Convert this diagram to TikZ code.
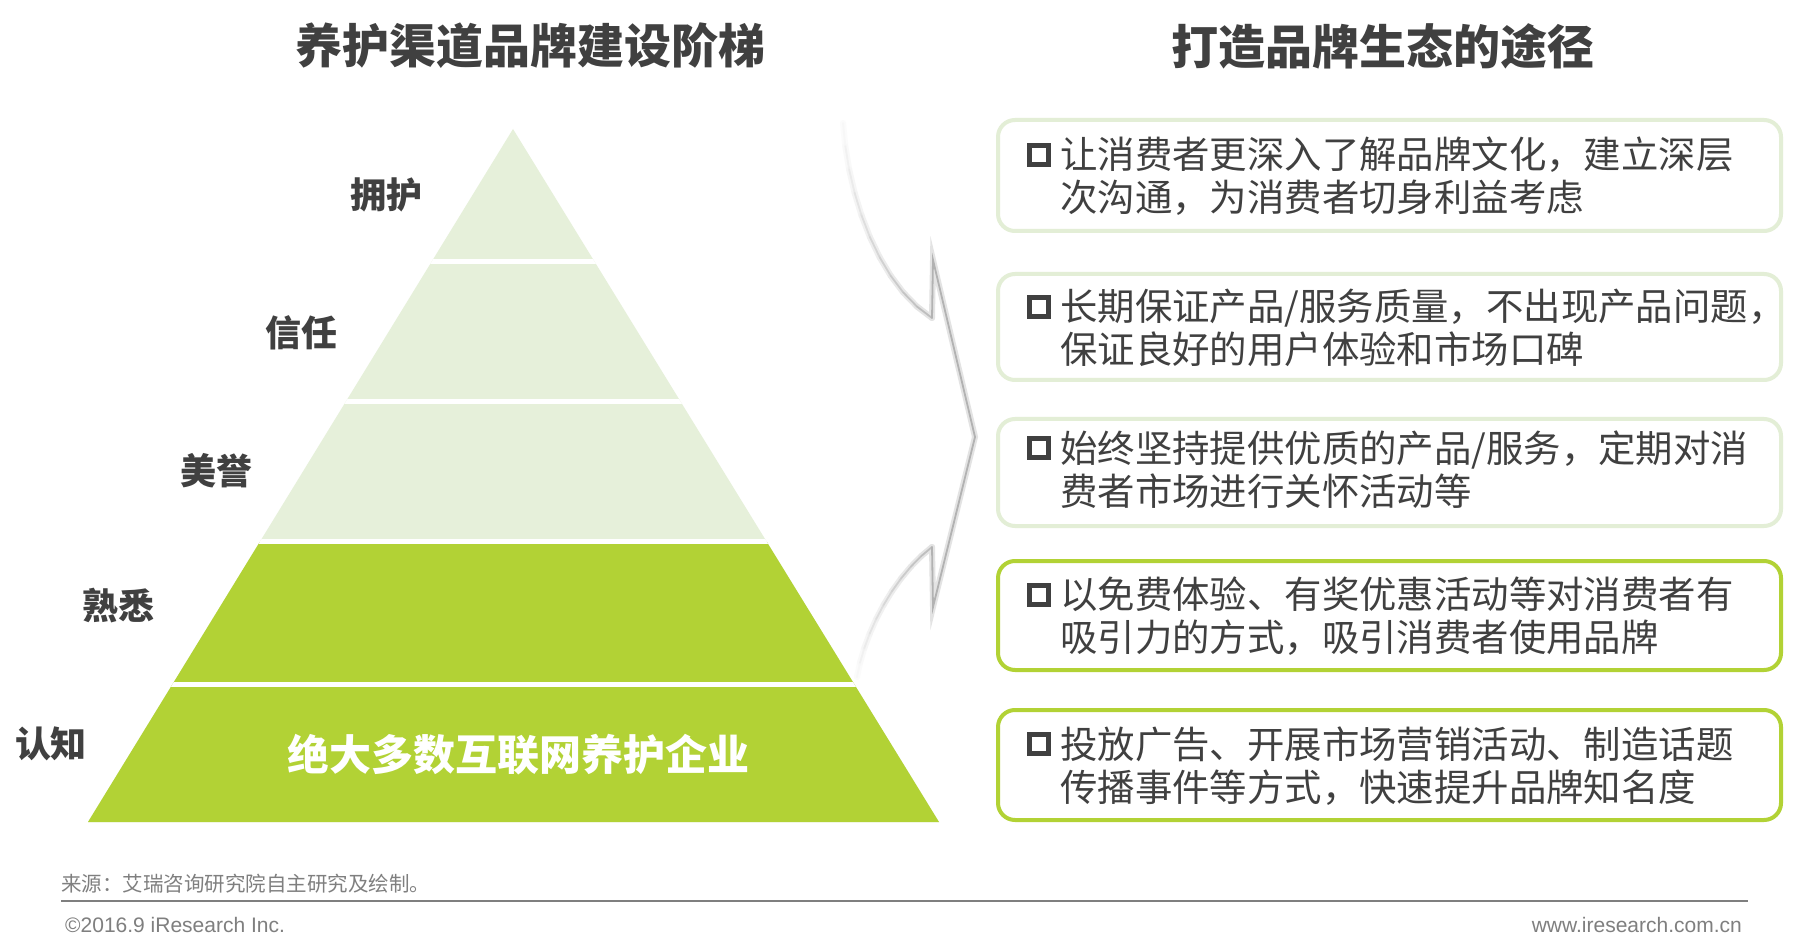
\documentclass[tikz,border=0pt]{standalone}
\usepackage{fontspec}
\setmainfont{Noto Sans CJK SC}
\newfontfamily\latn{Liberation Sans}
\definecolor{lightg}{HTML}{E6F0DA}
\definecolor{darkg}{HTML}{B2D235}
\definecolor{txt}{HTML}{404040}
\definecolor{foot}{HTML}{7F7F7F}
\definecolor{boxlight}{HTML}{E3EED6}
\begin{document}
\begin{tikzpicture}[x=1pt,y=-1pt,
  title/.style={font=\bfseries\fontsize{47}{50}\selectfont, text=txt, inner sep=0},
  lvl/.style={font=\bfseries\fontsize{36}{40}\selectfont, text=txt, inner sep=0},
  box/.style={draw, rounded corners=17, line width=4, minimum width=783, fill=white},
  lbox/.style={box, draw=boxlight},
  dbox/.style={box, draw=darkg},
  bullet/.style={draw=txt, line width=4.5, minimum size=19, inner sep=0},
  btxt/.style={font=\fontsize{37.4}{43}\selectfont, text=txt, align=left, inner sep=0, anchor=west},
  shadowline/.style={line width=6, line cap=round, line join=round},
  sharpline/.style={line width=1.8, line cap=round, line join=miter}
]
\useasboundingbox (0,0) rectangle (1800,949);
\fill[white] (0,0) rectangle (1800,949);

% titles
\node[title] (tl) at (530,46) {养护渠道品牌建设阶梯};
\node[title] (tr) at (1383,46) {打造品牌生态的途径};

% pyramid
\fill[lightg] (513,129) -- (939,822) -- (88,822) -- cycle;
\begin{scope}
  \clip (513,129) -- (939,822) -- (88,822) -- cycle;
  \fill[darkg] (0,542) rectangle (1000,830);
  \foreach \yy in {261.7,401.8,541.9,684.2}
    \draw[white, line width=5] (0,\yy) -- (1000,\yy);
\end{scope}

% level labels
\node[lvl] (l1) at (386,195) {拥护};
\node[lvl] (l2) at (301,333) {信任};
\node[lvl] (l3) at (216,471) {美誉};
\node[lvl] (l4) at (118,606) {熟悉};
\node[lvl] (l5) at (51,744) {认知};
\node[font=\bfseries\fontsize{42}{46}\selectfont, text=white, inner sep=0] (base) at (518,755) {绝大多数互联网养护企业};

% arrow: sample points along the curved tails
\path (843,123) .. controls (848,200) and (880,285) .. (932,318)
  coordinate[pos=0] (u0) coordinate[pos=0.1] (u1) coordinate[pos=0.2] (u2)
  coordinate[pos=0.3] (u3) coordinate[pos=0.4] (u4) coordinate[pos=0.5] (u5)
  coordinate[pos=0.6] (u6) coordinate[pos=0.7] (u7) coordinate[pos=0.8] (u8)
  coordinate[pos=0.9] (u9) coordinate[pos=1] (u10);
\path (857,677) .. controls (865,630) and (895,575) .. (932,547)
  coordinate[pos=0] (w0) coordinate[pos=0.1] (w1) coordinate[pos=0.2] (w2)
  coordinate[pos=0.3] (w3) coordinate[pos=0.4] (w4) coordinate[pos=0.5] (w5)
  coordinate[pos=0.6] (w6) coordinate[pos=0.7] (w7) coordinate[pos=0.8] (w8)
  coordinate[pos=0.9] (w9) coordinate[pos=1] (w10);
\coordinate (nu) at (932,318);
\coordinate (bu) at (933,260);
\coordinate (tip) at (975,437);
\coordinate (bl) at (933,607);
\coordinate (nl) at (932,547);
% shadows
\foreach \i in {0,...,9} {
  \pgfmathtruncatemacro{\j}{\i+1}
  \pgfmathtruncatemacro{\c}{3+\i*2}
  \draw[shadowline, gray!\c, shift={(2,2)}] (u\i) -- (u\j);
  \draw[shadowline, gray!\c, shift={(2,2)}] (w\i) -- (w\j);
}
\draw[shadowline, gray!22, line join=miter, shift={(2,2)}] (nu) -- (bu) -- (tip) -- (bl) -- (nl);
% sharp line
\foreach \i in {0,...,9} {
  \pgfmathtruncatemacro{\j}{\i+1}
  \pgfmathtruncatemacro{\c}{6+\i*5}
  \draw[sharpline, gray!\c] (u\i) -- (u\j);
  \draw[sharpline, gray!\c] (w\i) -- (w\j);
}
\draw[sharpline, gray!60] (nu) -- (bu) -- (tip) -- (bl) -- (nl);

% boxes
\node[lbox, minimum height=111] (b1) at (1389.5,175.5) {};
\node[lbox, minimum height=106] (b2) at (1389.5,327) {};
\node[lbox, minimum height=107] (b3) at (1389.5,472.5) {};
\node[dbox, minimum height=109] (b4) at (1389.5,615.5) {};
\node[dbox, minimum height=110] (b5) at (1389.5,765) {};

\node[bullet] (m1) at (1039,155) {};
\node[bullet] (m2) at (1039,307) {};
\node[bullet] (m3) at (1039,448) {};
\node[bullet] (m4) at (1039,595) {};
\node[bullet] (m5) at (1039,744) {};

\node[btxt] (t1) at (1060,176) {让消费者更深入了解品牌文化，建立深层\\次沟通，为消费者切身利益考虑};
\node[btxt] (t2) at (1060,328) {长期保证产品/服务质量，不出现产品问题，\\保证良好的用户体验和市场口碑};
\node[btxt] (t3) at (1060,469.5) {始终坚持提供优质的产品/服务，定期对消\\费者市场进行关怀活动等};
\node[btxt] (t4) at (1060,616.5) {以免费体验、有奖优惠活动等对消费者有\\吸引力的方式，吸引消费者使用品牌};
\node[btxt] (t5) at (1060,766) {投放广告、开展市场营销活动、制造话题\\传播事件等方式，快速提升品牌知名度};

% footer
\node[anchor=west, font=\fontsize{20.5}{22}\selectfont, text=foot, inner sep=0] (src) at (61,884) {来源：艾瑞咨询研究院自主研究及绘制。};
\coordinate (rl) at (61,901);
\coordinate (rr) at (1748,901);
\draw[foot, line width=2] (rl) -- (rr);
\node[anchor=west, font=\latn\fontsize{21}{23}\selectfont, text=foot, inner sep=0] (copy) at (65,925) {©2016.9 iResearch Inc.};
\node[anchor=east, font=\latn\fontsize{21}{23}\selectfont, text=foot, inner sep=0] (web) at (1742,925) {www.iresearch.com.cn};
\end{tikzpicture}
\end{document}
